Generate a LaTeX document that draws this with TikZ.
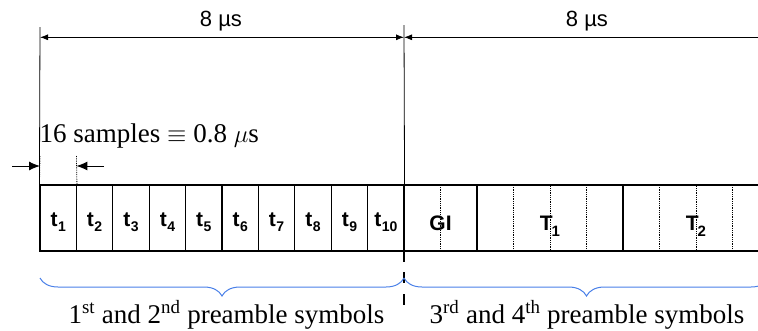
\documentclass[tikz,border=0pt]{standalone}
\usepackage{fontspec}
\setmainfont{Liberation Serif}
\setsansfont{Liberation Sans}
\usetikzlibrary{arrows.meta,decorations.pathreplacing}
\definecolor{braceblue}{RGB}{74,128,232}
\newcommand{\sbs}[1]{\kern0.5pt\raisebox{-5pt}{\fontsize{14}{14}\selectfont #1}}
\newcommand{\sbT}[1]{\kern-1pt\raisebox{-6pt}{\fontsize{15}{15}\selectfont #1}}
\begin{document}
\begin{tikzpicture}[x=1pt,y=-1pt,
  cellbox/.style={draw, line width=1.1pt, minimum height=66pt, inner sep=0pt,
    text height=17pt, text depth=0pt,
    font=\sffamily\bfseries\fontsize{21}{21}\selectfont},
  bigbox/.style={cellbox, text height=24pt, font=\sffamily\bfseries\fontsize{21}{21}\selectfont},
  dimline/.style={line width=0.8pt},
  dimarrow/.style={line width=0.8pt, -{Latex[length=8pt,width=6pt]}},
  smallarrow/.style={line width=1pt, -{Latex[length=11pt,width=9pt]}},
  dotline/.style={line width=0.8pt, densely dotted},
  bracedeco/.style={draw=braceblue, line width=1pt, decorate,
    decoration={brace, mirror, amplitude=18pt}},
  toplabel/.style={font=\sffamily\fontsize{22}{22}\selectfont, anchor=base, inner sep=0pt},
  serlabel/.style={font=\fontsize{27}{27}\selectfont, anchor=base, inner sep=0pt}
]
\useasboundingbox (0,0) rectangle (758,330);
\clip (0,0) rectangle (758,330);

% first half: ten short training slots
\foreach \i in {1,...,10}{
  \pgfmathsetmacro{\cx}{40+36.4*(\i-0.5)}
  \node[cellbox, minimum width=36.4pt] (c\i) at (\cx,218) {t\sbs{\i}};
}
% second half
\node[bigbox, minimum width=73pt] (gi) at (440.5,218) {GI};
\node[bigbox, minimum width=146pt] (t1) at (550,218) {T\sbT{1}};
\node[bigbox, minimum width=146pt] (t2) at (696,218) {T\sbT{2}};

% dotted sub-divisions
\foreach \x/\n in {440.5/a,513.5/b,586.5/d,659.5/e,732.5/g}{
  \coordinate (dt\n) at (\x,185);
  \coordinate (db\n) at (\x,251);
  \draw[dotline] (dt\n) -- (db\n);
}
\draw[dotline] (t1.north) -- (t1.south);
\draw[dotline] (t2.north) -- (t2.south);

% thick divider
\coordinate (divtop) at (404,185);
\coordinate (divbot) at (404,305);
\draw[line width=2.6pt, dash pattern=on 77pt off 10pt on 11pt off 11pt on 11pt off 100pt] (divtop) -- (divbot);

% top dimension lines
\coordinate (vL) at (40,27);
\coordinate (vM) at (404,25);
\coordinate (aL) at (40,37.3);
\coordinate (aM) at (404,37.3);
\coordinate (aR) at (770,37.3);
\draw[dimline] (vL) -- (c1.north west);
\draw[dimline] (vM) -- (c10.north east);
\draw[dimline, {Latex[length=8pt,width=6pt]}-{Latex[length=8pt,width=6pt]}] (aL) -- (aM);
\draw[dimarrow] (aR) -- (aM);
\node[toplabel] (lab8a) at (221,26.7) {8 µs};
\node[toplabel] (lab8b) at (587,26.7) {8 µs};

% 16 samples marker
\coordinate (sL) at (40,156);
\coordinate (sR) at (76.4,156);
\coordinate (arL) at (12,166);
\coordinate (arLe) at (40,166);
\coordinate (arR) at (104,166);
\coordinate (arRe) at (76.4,166);
\draw[dotline] (sL) -- (c1.north west);
\draw[dotline] (sR) -- (c1.north east);
\draw[smallarrow] (arL) -- (arLe);
\draw[smallarrow] (arR) -- (arRe);
\node[serlabel, anchor=base west] (samp) at (39.5,142.7) {16 samples $\equiv$ 0.8 $\mu$s};

% braces
\coordinate (b1s) at (40,278);
\coordinate (b1e) at (404,278);
\coordinate (b2s) at (404,278);
\coordinate (b2e) at (769,278);
\draw[bracedeco] (b1s) -- (b1e);
\draw[bracedeco] (b2s) -- (b2e);
\node[serlabel] (pre12) at (226.5,323) {1\textsuperscript{st} and 2\textsuperscript{nd} preamble symbols};
\node[serlabel] (pre34) at (587,323) {3\textsuperscript{rd} and 4\textsuperscript{th} preamble symbols};
\end{tikzpicture}
\end{document}
